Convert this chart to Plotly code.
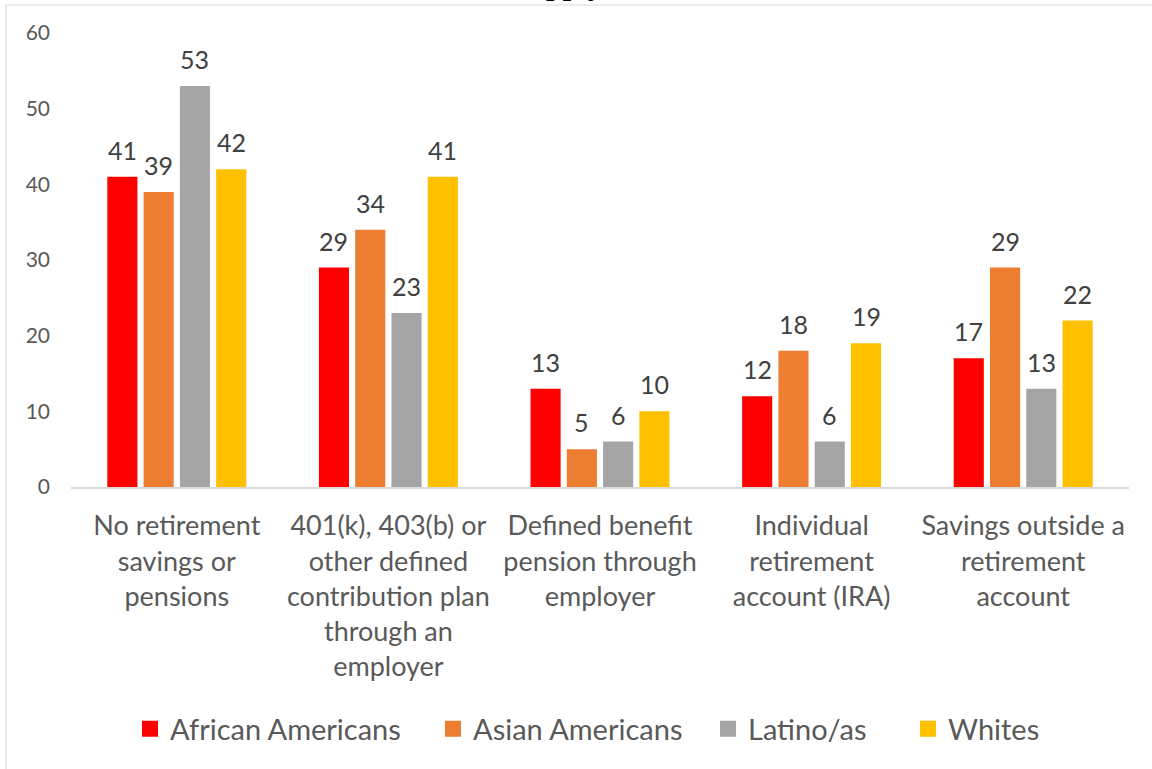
import plotly.graph_objects as go

categories = [
    "No retirement<br>savings or<br>pensions",
    "401(k), 403(b) or<br>other defined<br>contribution plan<br>through an<br>employer",
    "Defined benefit<br>pension through<br>employer",
    "Individual<br>retirement<br>account (IRA)",
    "Savings outside a<br>retirement<br>account",
]
groups = ["African Americans", "Asian Americans", "Latino/as", "Whites"]
african_americans = [41, 29, 13, 12, 17]
asian_americans = [39, 34, 5, 18, 29]
latinos = [53, 23, 6, 6, 13]
whites = [42, 41, 10, 19, 22]
series = [african_americans, asian_americans, latinos, whites]
colors = ["#FF0000", "#ED7D31", "#A5A5A5", "#FFC000"]

y_ticks = [0, 10, 20, 30, 40, 50, 60]

W, H = 1152, 769
L, R, T, B = 71, 1129, 33, 487
BARGAP = 0.314
GROUPGAP = 0.17
FONT = "Lato"


def px_x(p):
    return (p - L) / (R - L)


def px_y(p):
    return (B - p) / (B - T)


fig = go.Figure()
for name, vals, col in zip(groups, series, colors):
    fig.add_trace(go.Bar(
        x=list(range(len(categories))), y=vals, name=name,
        marker=dict(color=col, line=dict(width=0)),
        showlegend=False, hoverinfo="skip",
    ))

# value labels above each bar
slot = (1 - BARGAP) / len(groups)
annotations = []
for j, vals in enumerate(series):
    off = (j - (len(groups) - 1) / 2) * slot
    for i, v in enumerate(vals):
        annotations.append(dict(
            x=i + off, y=v, xref="x", yref="y", text=str(v),
            showarrow=False, yanchor="middle", yshift=27,
            font=dict(family=FONT, size=25, color="#404040"),
        ))

# title line, mostly above the page edge
annotations.append(dict(
    x=px_x(567), y=px_y(2), xref="paper", yref="paper", text="<b>apply</b>",
    showarrow=False, xanchor="center", yanchor="bottom", borderpad=0,
    font=dict(family="Liberation Serif", size=30, color="#000000"),
))

# one legend per series so each entry sits at its own position
legend_left = [130, 433, 708, 908]
legend_keys = ["legend", "legend2", "legend3", "legend4"]
for name, col, key in zip(groups, colors, legend_keys):
    fig.add_trace(go.Scatter(
        x=[None], y=[None], mode="markers", name=name,
        marker=dict(symbol="square", size=17, color=col),
        legend=key, showlegend=True,
    ))

legend_cfg = {}
for key, lx in zip(legend_keys, legend_left):
    legend_cfg[key] = dict(
        x=px_x(lx), y=px_y(729), xanchor="left", yanchor="middle",
        xref="paper", yref="paper", orientation="h",
        bgcolor="rgba(0,0,0,0)", borderwidth=0, itemwidth=30,
        font=dict(family=FONT, size=29, color="#595959"),
    )

fig.update_layout(
    width=W, height=H, autosize=False,
    margin=dict(l=L, r=W - R, t=T, b=H - B, pad=0),
    paper_bgcolor="white", plot_bgcolor="white",
    barmode="group", bargap=BARGAP, bargroupgap=GROUPGAP,
    annotations=annotations,
    shapes=[dict(
        type="rect", xref="paper", yref="paper",
        x0=px_x(6), x1=px_x(W + 20), y0=px_y(H + 20), y1=px_y(5),
        line=dict(color="#D9D9D9", width=1.2), fillcolor="rgba(0,0,0,0)",
        layer="below",
    )],
    xaxis=dict(
        tickmode="array", tickvals=list(range(len(categories))), ticktext=categories,
        range=[-0.5, len(categories) - 0.5],
        showgrid=False, zeroline=False, showline=True, linecolor="#D9D9D9", linewidth=2,
        ticks="", ticklabelstandoff=14,
        tickfont=dict(family=FONT, size=27, color="#595959"),
        tickangle=0,
    ),
    yaxis=dict(
        range=[0, 60], tickmode="array", tickvals=y_ticks,
        showgrid=False, zeroline=False, showline=False, ticks="",
        ticklabelstandoff=20,
        tickfont=dict(family=FONT, size=21, color="#595959"),
    ),
    **legend_cfg,
)

fig.write_html("out.html")
